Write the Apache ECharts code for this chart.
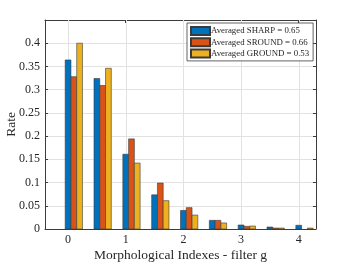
<!DOCTYPE html>
<html><head><meta charset="utf-8">
<script src="https://cdn.jsdelivr.net/npm/echarts@6/dist/echarts.min.js"></script>
<style>html,body{margin:0;padding:0;background:#fff}#c{width:349px;height:262px}</style>
</head><body><div id="c"></div>
<script>
var categories = [0, 0.5, 1, 1.5, 2, 2.5, 3, 3.5, 4];
var sharp  = [0.364, 0.324, 0.161, 0.0736, 0.040, 0.0186, 0.0086, 0.0043, 0.008];
var sround = [0.328, 0.309, 0.194, 0.099, 0.046, 0.0186, 0.0057, 0.002, 0];
var ground = [0.400, 0.346, 0.142, 0.061, 0.030, 0.013, 0.0064, 0.002, 0.002];
var seriesNames = ['Averaged SHARP = 0.65', 'Averaged SROUND = 0.66', 'Averaged GROUND = 0.53'];
var xTicks = [0, 1, 2, 3, 4];
var colors = ['#0072BD', '#D95319', '#EDB120'];
var BW = 0.1;
var YMAX = 0.45;
var FONT = 'Liberation Serif';
var TXT = '#262626';
var FRAME = '#3c3c3c';
var GRIDC = '#e2e2e2';

var chart = echarts.init(document.getElementById('c'), null, {renderer: 'canvas'});
function mk(idx, vals) {
  return {
    type: 'custom', name: seriesNames[idx], xAxisIndex: 0, yAxisIndex: 0, z: 3,
    itemStyle: {color: colors[idx], borderColor: '#3a3a3a', borderWidth: 0.6},
    data: categories.map(function (c, i) { return [c + idx * BW, vals[i]]; }),
    renderItem: function (params, api) {
      var x = api.value(0), y = api.value(1);
      if (!y) return null;
      var p0 = api.coord([x - BW / 2, 0]);
      var p1 = api.coord([x + BW / 2, y]);
      return {type: 'rect', shape: {x: p0[0], y: p1[1], width: p1[0] - p0[0], height: p0[1] - p1[1]}, style: api.style()};
    }
  };
}
var axisLine = {show: true, onZero: false, lineStyle: {color: FRAME, width: 1}};
var gridSeries = {
  type: 'custom', name: 'xgrid', xAxisIndex: 0, yAxisIndex: 0, silent: true, z: 1,
  data: xTicks.map(function (t) { return [t]; }),
  renderItem: function (params, api) {
    var a = api.coord([api.value(0), 0]);
    var b = api.coord([api.value(0), YMAX]);
    var x = Math.round(a[0]) + 0.5;
    return {type: 'line', shape: {x1: x, y1: a[1], x2: x, y2: b[1]}, style: {stroke: GRIDC, lineWidth: 1}};
  }
};
chart.setOption({
  animation: false,
  grid: {left: 45, right: 33, top: 20, bottom: 33, outerBoundsMode: 'none', containLabel: false,
         show: true, borderWidth: 0, backgroundColor: '#fff'},
  legend: {
    orient: 'vertical', left: 187, top: 23, itemWidth: 19, itemHeight: 8, itemGap: 1.2,
    padding: [3, 4, 2.5, 3], borderColor: FRAME, borderWidth: 0.8, backgroundColor: '#fff',
    icon: 'rect',
    textStyle: {fontFamily: FONT, fontSize: 8.8, lineHeight: 9, color: TXT, padding: [0, 0, 0, -4]},
    data: seriesNames
  },
  xAxis: [{
    type: 'value', min: -0.4, max: 4.3, position: 'bottom',
    name: 'Morphological Indexes - filter g', nameLocation: 'middle', nameGap: 19, nameMoveOverlap: false,
    nameTextStyle: {fontFamily: FONT, fontSize: 13.5, color: TXT, verticalAlign: 'top'},
    axisLine: axisLine,
    axisTick: {show: true, inside: true, length: 3, customValues: xTicks, lineStyle: {color: FRAME}},
    axisLabel: {customValues: xTicks, fontFamily: FONT, fontSize: 12, color: TXT, margin: 5},
    splitLine: {show: false}
  }, {
    type: 'value', min: -0.4, max: 4.3, position: 'top',
    axisLine: axisLine,
    axisTick: {show: true, inside: true, length: 3, customValues: xTicks, lineStyle: {color: FRAME}},
    axisLabel: {show: false, customValues: xTicks}, splitLine: {show: false}
  }],
  yAxis: [{
    type: 'value', min: 0, max: YMAX, interval: 0.05, position: 'left',
    name: 'Rate', nameLocation: 'middle', nameGap: 27, nameMoveOverlap: false,
    nameTextStyle: {fontFamily: FONT, fontSize: 13.5, color: TXT},
    axisLine: axisLine,
    axisTick: {show: true, inside: true, length: 3, lineStyle: {color: FRAME}},
    axisLabel: {fontFamily: FONT, fontSize: 12, color: TXT, margin: 5, showMaxLabel: false},
    splitLine: {show: true, lineStyle: {color: GRIDC, width: 1}}
  }, {
    type: 'value', min: 0, max: YMAX, interval: 0.05, position: 'right',
    axisLine: axisLine,
    axisTick: {show: true, inside: true, length: 3, lineStyle: {color: FRAME}},
    axisLabel: {show: false}, splitLine: {show: false}
  }],
  series: [gridSeries, mk(0, sharp), mk(1, sround), mk(2, ground)]
});
</script></body></html>
